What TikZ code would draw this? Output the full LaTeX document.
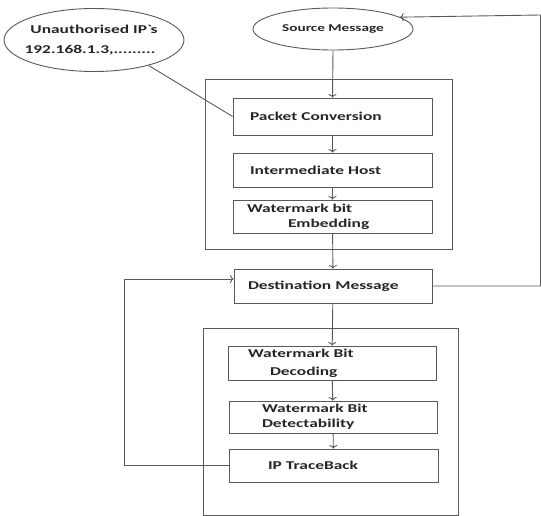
\documentclass[tikz,border=0pt]{standalone}
\usepackage{fontspec}
\setmainfont[FakeStretch=1.45]{Carlito}
\usepackage{tikz}
\usetikzlibrary{shapes.geometric,arrows.meta}

\begin{document}
\begin{tikzpicture}[x=1pt,y=-1pt]
    \tikzstyle{every node} = [font=\bfseries\fontsize{12}{15}\selectfont, text=black!85]
    \tikzstyle{block} = [draw=black!65, line width=0.9pt, rectangle, inner xsep=3pt, align=left]
    \tikzstyle{oval} = [draw=black!65, line width=0.9pt, ellipse, inner sep=0pt, align=center]
    \tikzstyle{frame} = [draw=black!65, line width=0.9pt]
    \tikzstyle{link} = [draw=black!65, line width=0.9pt, -{To[length=3.5pt,width=8pt]}]
    \useasboundingbox (0,0) rectangle (541,516);
    % outer frames
    \draw[frame] (205,79) rectangle (452,249);
    \draw[frame] (203,328) rectangle (458,515);
    % place nodes
    \node[oval,minimum width=168,minimum height=63](unauthIP) at (94,40){Unauthorised IP\textasciigrave s\\[5pt]\hspace*{-8pt}192.168.1.3,.........};
    \node[oval,minimum width=160,minimum height=42,font=\fontsize{10.5}{12}\selectfont\bfseries](srcMsg) at (333,29){Source Message};
    \node[block,text width=193,minimum height=37](pktConv) at (332.5,116.5){\hspace*{14pt}Packet Conversion};
    \node[block,text width=193,minimum height=34](interHost) at (332.5,170){\hspace*{14pt}Intermediate Host};
    \node[block,text width=193,minimum height=33,inner ysep=1pt](wmEmbed) at (332.5,216.5){\hspace*{11pt}Watermark bit\\\hspace*{52pt}Embedding};
    \node[block,text width=192,minimum height=34](destMsg) at (333,286){\hspace*{11pt}Destination Message};
    \node[block,text width=202,minimum height=34,inner ysep=1pt](wmDecode) at (332,363){\hspace*{17pt}Watermark Bit\\[3pt]\hspace*{39pt}Decoding};
    \node[block,text width=202,minimum height=32,inner ysep=1pt](wmDetect) at (333,417){\hspace*{30pt}Watermark Bit\\\hspace*{30pt}Detectability};
    \node[block,text width=203,minimum height=33](ipTrace) at (333.5,465.5){\hspace*{36pt}IP TraceBack};
    \coordinate (rightTurn) at (540.5,286);
    \coordinate (rightTop) at (540.5,15);
    % Connections
    \draw[link] (srcMsg.south) -- (pktConv.north);
    \draw[link] (pktConv) -- (interHost);
    \draw[link] (interHost) -- (wmEmbed);
    \draw[link] (wmEmbed) -- (destMsg);
    \draw[link] (destMsg) -- (wmDecode);
    \draw[link] (wmDecode) -- (wmDetect);
    \draw[link] (wmDetect) -- (ipTrace);
    \draw[link,-] (unauthIP.-25) -- (pktConv.west);
    \draw[link] (ipTrace.west) -- ++(-104,0) |- ([yshift=7pt]destMsg.west);
    \draw[link] (destMsg.east) -- (rightTurn) -- (rightTop) -- (srcMsg.10);
\end{tikzpicture}
\end{document}
